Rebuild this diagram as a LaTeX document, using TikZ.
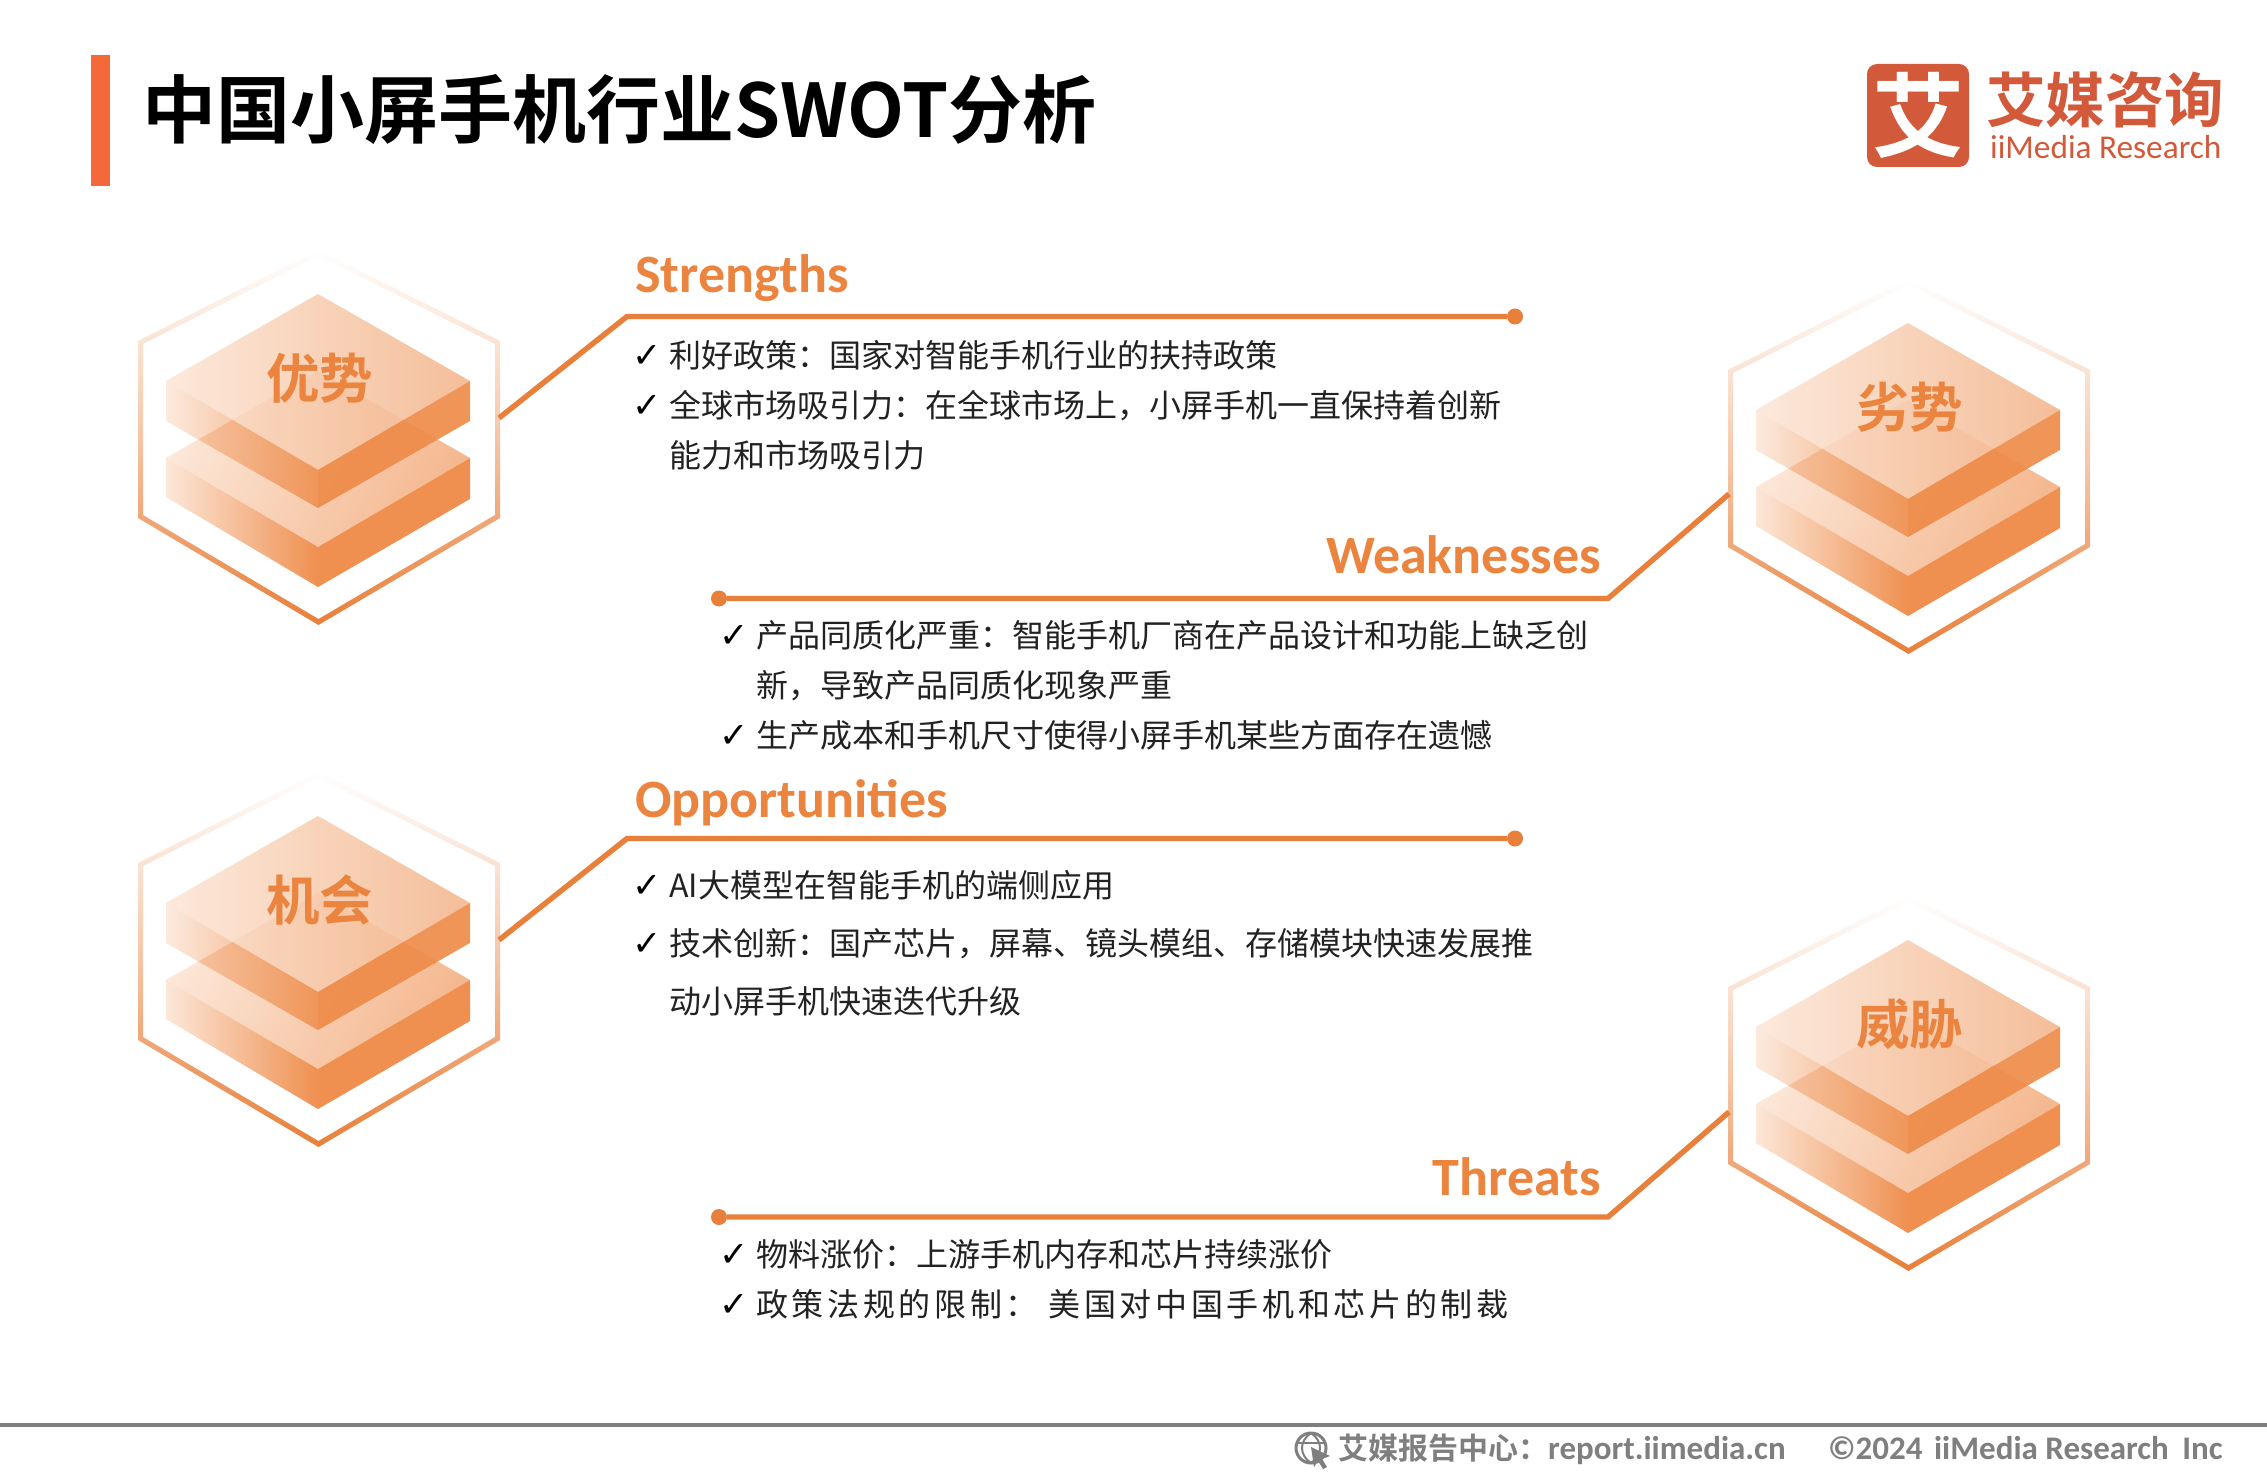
\documentclass[tikz,border=0pt]{standalone}
\usepackage{fontspec}
\setmainfont{Noto Sans CJK SC}[BoldFont={Noto Sans CJK SC Bold}]
\newfontfamily\chk{DejaVu Sans}
\newfontfamily\lat{Carlito}
\newfontfamily\spacedcjk{Noto Sans CJK SC}[LetterSpace=11.4]
\usetikzlibrary{calc}
\definecolor{lineor}{HTML}{E87F3A}
\definecolor{heador}{HTML}{EA843F}
\definecolor{logor}{HTML}{D2593A}
\definecolor{baror}{HTML}{F4683A}
\definecolor{bodyt}{HTML}{222222}
\definecolor{footg}{HTML}{7F7F7F}
\definecolor{lightf}{HTML}{FCE7D8}
\definecolor{midf}{HTML}{F4B78E}
\definecolor{darkf}{HTML}{EF9050}
\tikzset{
  x=1pt,y=-1pt,
  conn/.style={draw=lineor,line width=5.4pt,line join=miter},
  enddot/.style={circle,fill=lineor,inner sep=0pt,minimum size=16pt},
  heading/.style={text=heador,font=\lat\fontsize{54}{54}\selectfont\bfseries,inner sep=0pt},
  body/.style={text=bodyt,font=\fontsize{32}{32}\selectfont,anchor=base west,inner sep=0pt},
  tick/.style={text=black,font=\chk\fontsize{35}{35}\selectfont,anchor=base,inner sep=0pt},
  hexlabel/.style={text=heador,font=\fontsize{53.5}{54}\selectfont\bfseries,inner sep=0pt},
  foot/.style={text=footg,font=\fontsize{30}{30}\selectfont\bfseries,anchor=base west,inner sep=0pt},
}
% one hexagon emblem: #1 = name, #2 = x shift, #3 = y shift, #4 = label
\newcommand{\hexunit}[4]{%
\begin{scope}[shift={(#2,#3)}]
  \shade[even odd rule,top color=white,bottom color=lineor,middle color=lineor!45]
    (318.5,250)--(500,341)--(500,518)--(318.5,625)--(138,518)--(138,341)--cycle
    (318.5,255.5)--(495,344)--(495,515)--(318.5,619)--(143,515)--(143,344)--cycle;
  % lower slab
  \shade[left color=lightf,right color=midf,shading angle=60] (318,371)--(470,458)--(318,547)--(166,458)--cycle;
  \shade[left color=lightf,right color=darkf] (166,458)--(318,547)--(318,587)--(166,497)--cycle;
  \fill[darkf] (318,547)--(470,458)--(470,499)--(318,587)--cycle;
  % upper slab
  \shade[left color=lightf,right color=midf,opacity=.9] (318,294)--(470,381)--(318,470)--(166,381)--cycle;
  \shade[left color=lightf,right color=darkf,opacity=.85] (166,381)--(318,470)--(318,508)--(166,421)--cycle;
  \fill[darkf,opacity=.95] (318,470)--(470,381)--(470,421)--(318,508)--cycle;
  % where the lower slab shows through the upper one
  \begin{scope}
    \clip (318,371)--(470,458)--(318,547)--(166,458)--cycle;
    \fill[darkf,opacity=.3] (166,381)--(318,470)--(318,508)--(166,421)--cycle;
    \fill[lineor,opacity=.12] (318,470)--(470,381)--(470,421)--(318,508)--cycle;
    \fill[darkf,opacity=.06] (318,294)--(470,381)--(318,470)--(166,381)--cycle;
  \end{scope}
  \node[hexlabel] (#1) at (319.5,378) {#4};
  \coordinate (#1L) at (139,418);
  \coordinate (#1R) at (499,418);
\end{scope}}
\begin{document}
\begin{tikzpicture}
\useasboundingbox (0,0) rectangle (2267,1474);
\fill[white] (0,0) rectangle (2267,1474);
% title
\fill[baror] (91,55) rectangle (110,186);
\node[anchor=base west,inner sep=0pt,font=\fontsize{74}{74}\selectfont\bfseries,text=black] (title) at (142,138) {中国小屏手机行业SWOT分析};
% logo
\fill[logor,rounded corners=10pt] (1867,64) rectangle (1969,167);
\node[text=white,font=\fontsize{92}{92}\selectfont\bfseries,inner sep=0pt] (logomark) at (1918,115) {艾};
\node[text=logor,font=\fontsize{59.5}{60}\selectfont\bfseries,anchor=base west,inner sep=0pt,text depth=0pt] (logocn) at (1986,123) {艾媒咨询};
\node[text=logor,font=\lat\fontsize{33.3}{33}\selectfont,anchor=base west,inner sep=0pt] (logoen) at (1990,159) {iiMedia Research};
% emblems
\hexunit{hs}{0}{0}{优势}
\hexunit{hw}{1590}{29}{劣势}
\hexunit{ho}{0}{522}{机会}
\hexunit{ht}{1590}{646}{威胁}
% connectors
\node[enddot] (ds) at (1515,316.5) {};
\coordinate (es) at (627,316.5);
\draw[conn] (hsR) -- (es) -- (ds);
\node[enddot] (dw) at (719,598.5) {};
\coordinate (ew) at (1608,598.5);
\path (hwL) ++(0,47) coordinate (hwp);
\draw[conn] (hwp) -- (ew) -- (dw);
\node[enddot] (dO) at (1515,838.5) {};
\coordinate (eo) at (627,838.5);
\draw[conn] (hoR) -- (eo) -- (dO);
\node[enddot] (dt) at (719,1217) {};
\coordinate (et) at (1608,1217);
\path (htL) ++(0,48) coordinate (htp);
\draw[conn] (htp) -- (et) -- (dt);
% headings
\node[heading,anchor=base west] (hd1) at (635,292) {Strengths};
\node[heading,anchor=base east] (hd2) at (1601,573) {Weaknesses};
\node[heading,anchor=base west] (hd3) at (635,817) {Opportunities};
\node[heading,anchor=base east] (hd4) at (1601,1195) {Threats};
% body
\node[tick] (c1) at (647,367) {✓};
\node[body] (t1) at (669,367) {利好政策：国家对智能手机行业的扶持政策};
\node[tick] (c2) at (647,417) {✓};
\node[body] (t2) at (669,417) {全球市场吸引力：在全球市场上，小屏手机一直保持着创新};
\node[body] (t3) at (669,467) {能力和市场吸引力};
\node[tick] (c3) at (734,647) {✓};
\node[body] (t4) at (756,647) {产品同质化严重：智能手机厂商在产品设计和功能上缺乏创};
\node[body] (t5) at (756,697) {新，导致产品同质化现象严重};
\node[tick] (c4) at (734,747) {✓};
\node[body] (t6) at (756,747) {生产成本和手机尺寸使得小屏手机某些方面存在遗憾};
\node[tick] (c5) at (647,897) {✓};
\node[body] (t7) at (669,897) {AI大模型在智能手机的端侧应用};
\node[tick] (c6) at (647,955) {✓};
\node[body] (t8) at (669,955) {技术创新：国产芯片，屏幕、镜头模组、存储模块快速发展推};
\node[body] (t9) at (669,1013) {动小屏手机快速迭代升级};
\node[tick] (c7) at (734,1266) {✓};
\node[body] (t10) at (756,1266) {物料涨价：上游手机内存和芯片持续涨价};
\node[tick] (c8) at (734,1316) {✓};
\node[body,font=\spacedcjk\fontsize{32}{32}\selectfont] (t11) at (756,1316) {政策法规的限制： 美国对中国手机和芯片的制裁};
% footer
\fill[footg] (0,1422.5) rectangle (2267,1426.5);
\draw[footg,line width=3pt] (1311,1448) circle (15);
\draw[footg,line width=2pt] (1311,1433) .. controls (1299,1441) and (1299,1455) .. (1311,1463);
\draw[footg,line width=2pt] (1311,1433) .. controls (1323,1441) and (1323,1455) .. (1311,1463);
\draw[footg,line width=2pt] (1296,1443) -- (1326,1443);
\fill[footg] (1311,1447) -- (1330,1456) -- (1322,1459) -- (1327,1467) -- (1323,1469) -- (1318,1461) -- (1314,1467) -- cycle;
\node[foot] (f1) at (1338,1459) {艾媒报告中心：{\lat\fontsize{33}{33}\selectfont\bfseries report.iimedia.cn}};
\node[foot,font=\lat\fontsize{33}{33}\selectfont\bfseries] (f2) at (1828,1459) {©2024\hspace{4pt} iiMedia Research\hspace{6pt} Inc};
\end{tikzpicture}
\end{document}
